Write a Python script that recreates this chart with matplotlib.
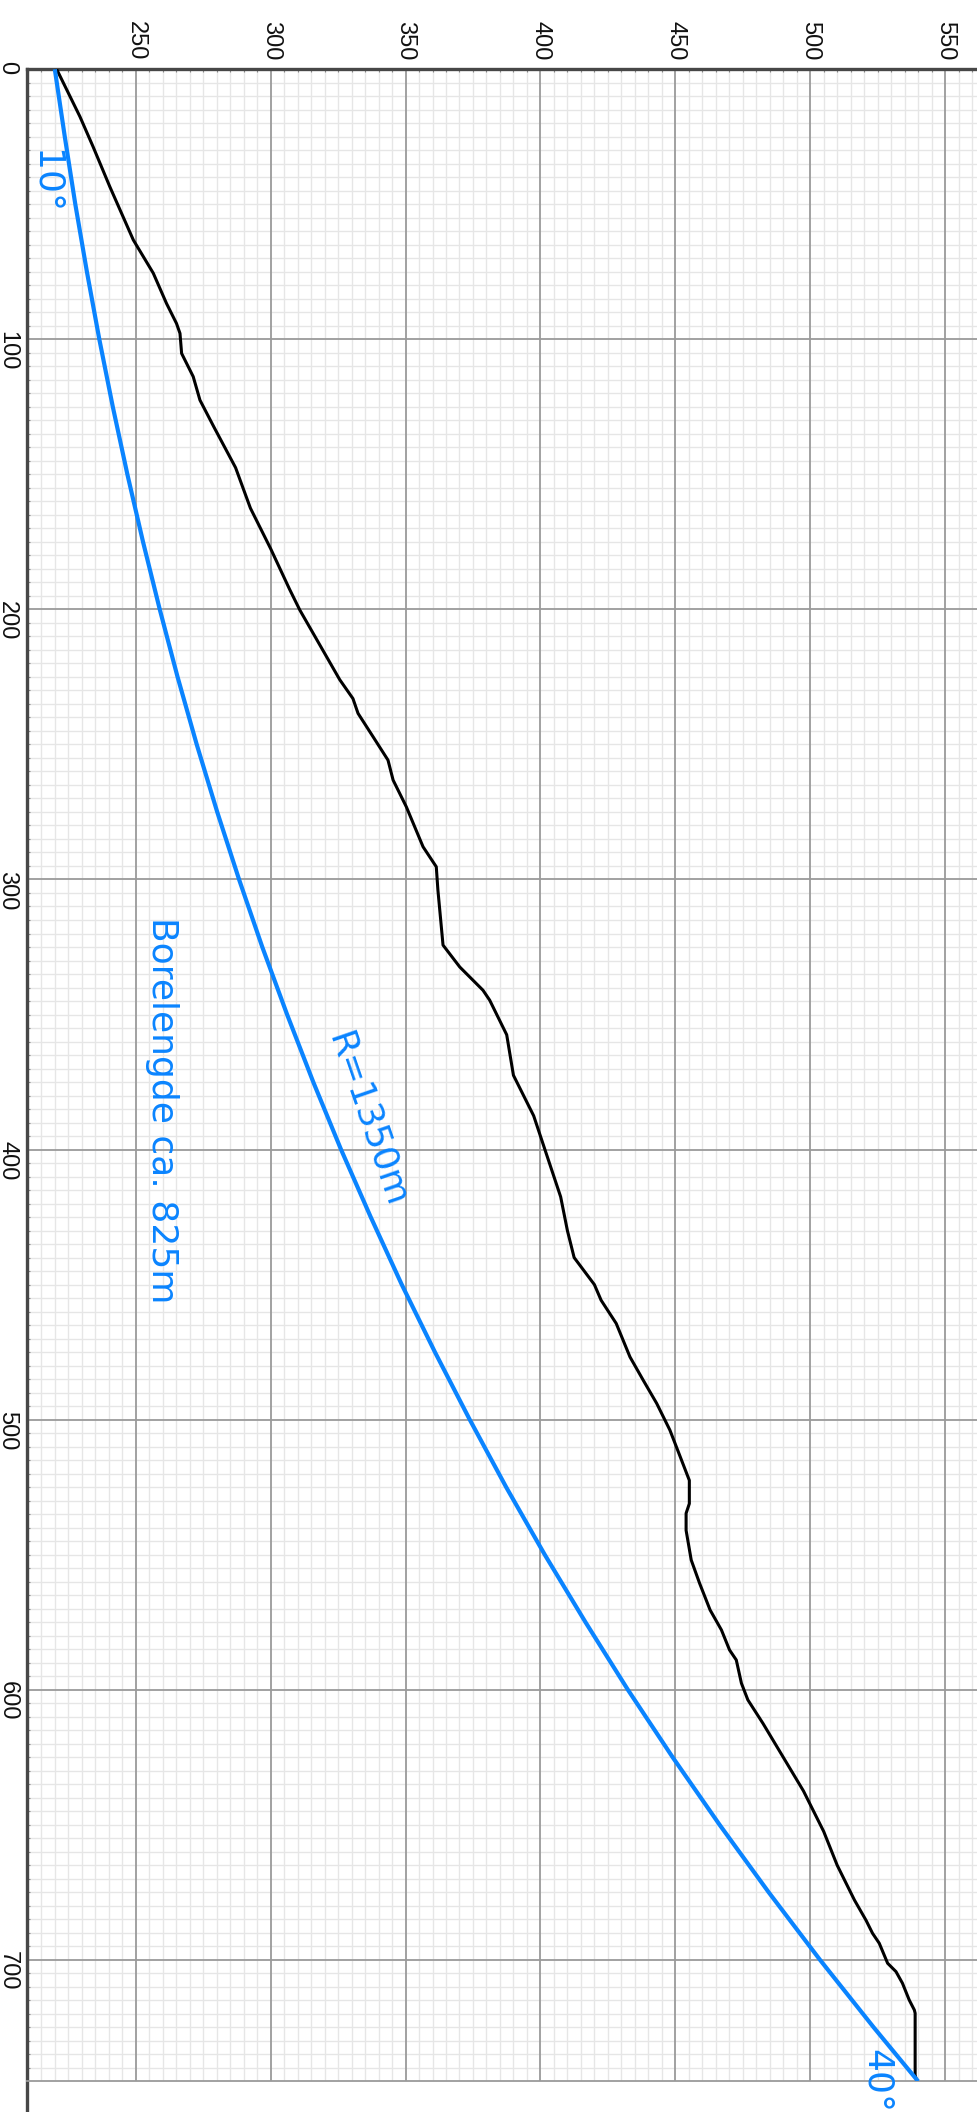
import matplotlib.pyplot as plt
from matplotlib.ticker import MultipleLocator, FixedLocator

# terrain profile: horizontal distance (m) and elevation (m)
terrain_dist = [0, 17.5, 28.7, 43.5, 63.2, 75.5, 86.7, 94.1, 97.8, 105.2, 113.8, 122.5,
                132.5, 147.5, 162.5, 177.5, 192.5, 200.2, 226, 233, 238.5, 247.2, 255.8,
                263.2, 273.1, 287.9, 295.3, 303.9, 324.3, 332.4, 341, 344.7, 357.5, 372.5,
                387.5, 402.5, 417.5, 430, 440, 450, 455.8, 464.4, 476.8, 485.4, 494, 503.9,
                513.7, 522.5, 531.1, 534.7, 541, 552, 560.6, 570.5, 577.9, 585.3, 589,
                597.6, 603.8, 612.5, 625, 637.5, 652.5, 665, 677.9, 685.4, 690.2, 693.9,
                701.3, 704.4, 708.7, 714.9, 718.6, 719.8, 742.7, 745]
terrain_elev = [220.7, 229.3, 234.2, 240.4, 249.1, 256.5, 261.4, 265.1, 266.4, 267.0, 271.3, 273.8,
                279, 287, 292.5, 300, 307, 310.8, 325.6, 330.5, 332.4, 338, 343.5,
                345.4, 350.3, 356.5, 361.4, 362, 363.9, 370.1, 378.7, 381.2, 387.5, 390,
                397.5, 402.5, 407.5, 410, 412.5, 420, 422.5, 428.1, 433.2, 438.1, 443.1, 448,
                451.8, 455.2, 455.2, 454, 454, 455.9, 459, 462.9, 467.1, 470.1, 472.6,
                474.5, 476.9, 482.5, 490, 497.5, 505, 510, 516.4, 520.7, 523.1, 525.6,
                528.7, 531.8, 534.2, 536.7, 538.6, 538.9, 538.9, 539.5]

# planned bore path (R=1350m, 10 deg -> 40 deg)
bore_dist = [0, 25, 50, 75, 100, 125, 150, 175, 200, 225, 250, 275, 300, 325, 350, 375,
             400, 425, 450, 475, 500, 525, 550, 575, 600, 625, 650, 675, 700, 725, 745]
bore_elev = [220, 223.7, 227.6, 231.9, 236.5, 241.5, 246.9, 252.7, 258.9, 265.5, 272.6,
             280.2, 288.3, 296.9, 306.1, 315.8, 326.1, 337.1, 348.6, 360.9, 373.8, 387.3,
             401.6, 416.7, 432.4, 449.0, 466.4, 484.6, 503.6, 523.5, 540.0]

elev_ticks = [250, 300, 350, 400, 450, 500, 550]
dist_ticks = [0, 100, 200, 300, 400, 500, 600, 700]

blue = '#0a84ff'
major_grid = '#9a9a9a'

fig = plt.figure(figsize=(9.78, 21.12), dpi=100)
ax = fig.add_axes([27.3 / 978, 1 - 2081 / 2112, 1 - 27.3 / 978, (2081 - 69.3) / 2112])

ax.plot(terrain_elev, terrain_dist, color='black', lw=2.2, zorder=3, solid_joinstyle='round')
ax.plot(bore_elev, bore_dist, color=blue, lw=3, zorder=4, solid_capstyle='butt')

ax.set_xlim(209.8, 562.2)
ax.set_ylim(744.9, 0)

ax.xaxis.tick_top()
ax.xaxis.set_major_locator(FixedLocator(elev_ticks))
ax.yaxis.set_major_locator(FixedLocator(dist_ticks))
ax.xaxis.set_minor_locator(MultipleLocator(5))
ax.yaxis.set_minor_locator(MultipleLocator(5))
ax.set_xticklabels([str(t) for t in elev_ticks])
ax.set_yticklabels([str(t) for t in dist_ticks])

for lab in ax.get_xticklabels() + ax.get_yticklabels():
    lab.set_rotation(-90)
    lab.set_fontfamily('Liberation Sans')
    lab.set_fontsize(17)
    lab.set_color('#111111')

ax.tick_params(which='major', length=0, pad=6.5)
ax.tick_params(which='minor', direction='in', length=2.5, width=0.8, color='#888888')

# light minor grid from the axis, major lines drawn on top so they stay solid
ax.set_axisbelow(True)
ax.grid(which='minor', color='#e6e6e6', lw=1.0)
for t in elev_ticks:
    ax.axvline(t, color=major_grid, lw=1.3, zorder=1)
for t in dist_ticks[1:]:
    ax.axhline(t, color=major_grid, lw=1.3, zorder=1)

for side in ['top', 'left']:
    ax.spines[side].set_color('#474747')
    ax.spines[side].set_linewidth(2.4)
ax.spines['left'].set_bounds(0, 757)
ax.spines['bottom'].set_color(major_grid)
ax.spines['bottom'].set_linewidth(1.3)
ax.spines['right'].set_visible(False)

ax.text(216.5, 41.7, '10°', color=blue, fontsize=26, rotation=-90, ha='center', va='center')
ax.text(524.5, 732.9, '40°', color=blue, fontsize=26, rotation=-90, ha='center', va='top')
ax.text(259.7, 314, 'Borelengde ca. 825m', color=blue, fontsize=26, rotation=-90,
        ha='center', va='top')
ax.text(335.6, 389.1, 'R=1350m', color=blue, fontsize=26, rotation=-71, ha='center', va='center',
        rotation_mode='anchor')

fig.savefig('out.png', dpi=100)
